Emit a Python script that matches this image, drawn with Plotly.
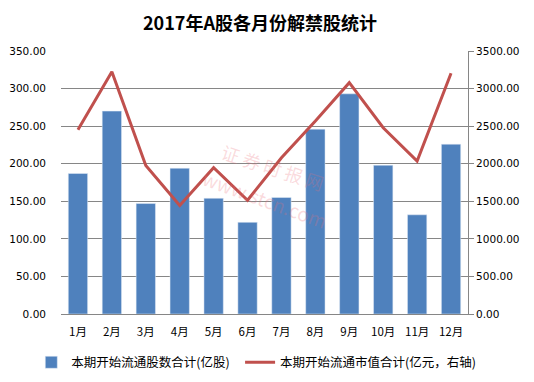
import plotly.graph_objects as go

months = ["1月", "2月", "3月", "4月", "5月", "6月", "7月", "8月", "9月", "10月", "11月", "12月"]
shares = [187, 270, 147, 194, 154, 122, 155, 246, 293, 198, 132, 226]
market_value = [2452, 3225, 1977, 1443, 1946, 1514, 2079, 2567, 3079, 2479, 2034, 3203]
left_ticks = [0, 50, 100, 150, 200, 250, 300, 350]
right_ticks = [0, 500, 1000, 1500, 2000, 2500, 3000, 3500]

cjk = "Noto Sans CJK SC, sans-serif"
num = "DejaVu Sans, Noto Sans CJK SC, sans-serif"

fig = go.Figure()
fig.add_trace(go.Bar(
    x=months, y=shares, name="本期开始流通股数合计(亿股)",
    marker=dict(color="#4F81BD"), yaxis="y", legend="legend",
))
fig.add_trace(go.Scatter(
    x=months, y=market_value, name="本期开始流通市值合计(亿元，右轴)",
    mode="lines", line=dict(color="#C0504D", width=3), yaxis="y2", legend="legend2",
))

wm = "rgba(235,110,120,0.25)"
fig.add_annotation(x=0.52, y=0.56, xref="paper", yref="paper", text="证 券 时 报 网",
                   showarrow=False, textangle=18,
                   font=dict(family=cjk, size=18, color=wm))
fig.add_annotation(x=0.50, y=0.44, xref="paper", yref="paper", text="www.stcn.com",
                   showarrow=False, textangle=20,
                   font=dict(family=cjk, size=19, color=wm))

# page body has an 8px default margin, so the figure is sized to fill the rest of the window
fig.update_layout(
    width=526, height=374,
    margin=dict(l=53, r=66, t=43, b=68, autoexpand=False),
    paper_bgcolor="white", plot_bgcolor="white",
    font=dict(family=cjk, size=11, color="#000"),
    title=dict(text="<b>2017年A股各月份解禁股统计</b>", x=0.479, xanchor="center",
               y=0.957, yanchor="middle", font=dict(size=18, family=cjk)),
    bargap=0.43,
    showlegend=True,
    legend=dict(orientation="h", x=-0.073, xanchor="left", y=-0.185, yanchor="middle",
                font=dict(size=12.5, family=cjk), bgcolor="rgba(0,0,0,0)"),
    legend2=dict(orientation="h", x=0.44, xanchor="left", y=-0.185, yanchor="middle",
                 font=dict(size=12.5, family=cjk), bgcolor="rgba(0,0,0,0)"),
    xaxis=dict(showgrid=False, showline=True, linecolor="#868686", linewidth=1,
               ticks="", ticklabelstandoff=7, tickfont=dict(size=11.5, family=cjk)),
    yaxis=dict(range=[0, 350], tickvals=left_ticks,
               ticktext=[f"{v:.2f}" for v in left_ticks],
               showgrid=True, gridcolor="#868686", gridwidth=1,
               showline=False, zeroline=False, ticks="", ticklabelstandoff=14,
               tickfont=dict(size=10.5, family=num)),
    yaxis2=dict(range=[0, 3500], tickvals=right_ticks,
                ticktext=[f"{v:.2f}" for v in right_ticks],
                overlaying="y", side="right", showgrid=False, zeroline=False,
                showline=True, linecolor="#868686", linewidth=1,
                ticks="outside", ticklen=5, tickcolor="#868686",
                tickfont=dict(size=10.5, family=num)),
)

fig.write_html("out.html")
